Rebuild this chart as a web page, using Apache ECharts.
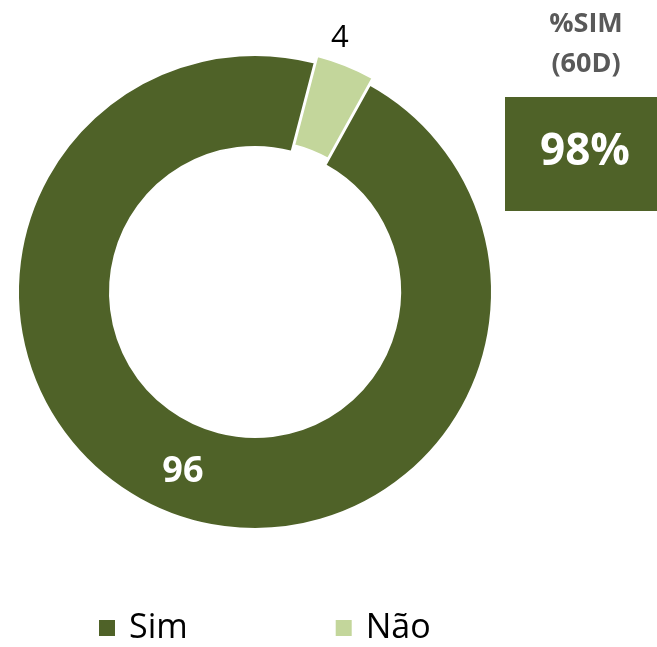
<!DOCTYPE html>
<html>
<head>
<meta charset="utf-8">
<script src="https://cdn.jsdelivr.net/npm/echarts@6/dist/echarts.min.js"></script>
<style>
  html, body { margin: 0; padding: 0; background: #fff; }
  #chart { width: 657px; height: 647px; }
</style>
</head>
<body>
<div id="chart"></div>
<script>
// data
const categories = ['Sim', 'Não'];
const values = [96, 4];
const colors = ['#4F6228', '#C3D69B'];
const kpiTitle = '%SIM\n(60D)';
const kpiValue = '98%';

const FONT = '"Open Sans", Lato, sans-serif';
const chart = echarts.init(document.getElementById('chart'));

const pieData = categories.map((name, i) => {
  const item = { name: name, value: values[i], itemStyle: { color: colors[i] } };
  if (i === 0) {
    // big slice: value inside the ring, white bold
    item.label = {
      position: 'inside',
      color: '#fff',
      fontSize: 36,
      fontWeight: 'bold'
    };
  } else {
    // small slice is pulled out, value sits above it
    item.selected = true;
    item.label = {
      position: 'outside',
      color: '#000',
      fontSize: 31
    };
    item.labelLine = { show: false, length: 12, length2: 0 };
  }
  return item;
});

const options = {
  backgroundColor: '#fff',
  animation: false,
  textStyle: { fontFamily: FONT },
  legend: {
    data: categories,
    left: 97,
    top: 611,
    padding: 0,
    icon: 'rect',
    itemWidth: 18,
    itemHeight: 18,
    itemGap: 146,
    textStyle: { fontSize: 34, color: '#000', padding: [0, 0, 0, 8] },
    selectedMode: false
  },
  series: [
    {
      type: 'pie',
      center: [255, 292],
      radius: [145, 237],
      startAngle: 61,
      clockwise: true,
      selectedMode: 'single',
      selectedOffset: 7,
      avoidLabelOverlap: false,
      emphasis: { disabled: true },
      itemStyle: { borderColor: '#fff', borderWidth: 2 },
      label: { show: true, formatter: '{c}' },
      // nudge the small slice's value so it sits centred over the slice
      labelLayout: (params) => (params.dataIndex === 1 ? { dx: -24, dy: -16 } : {}),
      data: pieData
    }
  ],
  graphic: [
    {
      type: 'text',
      x: 586,
      y: 4,
      style: {
        text: kpiTitle,
        fill: '#595959',
        fontFamily: FONT,
        fontSize: 27,
        fontWeight: 'bold',
        align: 'center',
        verticalAlign: 'top',
        lineHeight: 40
      }
    },
    {
      type: 'rect',
      shape: { x: 505, y: 97, width: 152, height: 114 },
      style: { fill: '#4F6228' }
    },
    {
      type: 'text',
      x: 585,
      y: 152,
      style: {
        text: kpiValue,
        fill: '#fff',
        fontFamily: FONT,
        fontSize: 44,
        fontWeight: 'bold',
        align: 'center',
        verticalAlign: 'middle'
      }
    }
  ]
};

chart.setOption(options);
</script>
</body>
</html>
